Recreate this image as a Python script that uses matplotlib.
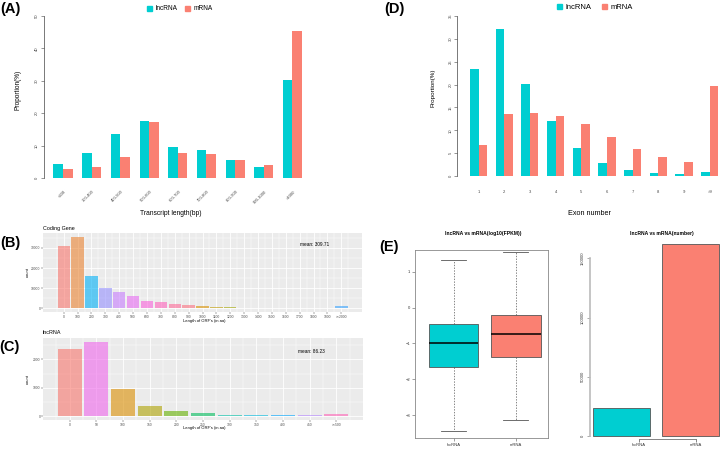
import numpy as np
import matplotlib.pyplot as plt
from matplotlib.patches import Patch

plt.rcParams['font.family'] = ['Liberation Sans', 'DejaVu Sans']

W, H = 720, 450
LNC = '#00CED1'
MRNA = '#FA8072'

# (A) transcript length distribution, proportion (%)
len_bins = ['<300', '300-400', '400-500', '500-600', '600-700', '700-800',
            '800-900', '900-1000', '>1000']
len_lnc = [4.3, 7.6, 13.6, 17.6, 9.6, 8.5, 5.6, 3.5, 30.2]
len_mrna = [2.8, 3.5, 6.6, 17.3, 7.7, 7.3, 5.6, 4.1, 45.5]

# (D) exon number distribution, proportion (%)
exon_bins = ['1', '2', '3', '4', '5', '6', '7', '8', '9', '>9']
exon_lnc = [23.3, 32.1, 20.1, 12.1, 6.1, 2.8, 1.3, 0.7, 0.4, 0.8]
exon_mrna = [6.7, 13.6, 13.7, 13.1, 11.3, 8.5, 5.8, 4.2, 3.1, 19.7]

# (B) ORF length, coding genes
cds_pos = list(range(0, 2001, 100))
cds_labels = [str(p) for p in range(0, 2000, 100)] + ['>=2000']
cds_counts = [31000, 35600, 16000, 10100, 7900, 6000, 3900, 3100, 2100, 1600,
              1100, 800, 600, 450, 350, 250, 200, 150, 120, 100, 1100]
cds_mean = 'mean: 309.71'

# (C) ORF length, lncRNA
lnc_pos = list(range(0, 501, 50))
lnc_labels = [str(p) for p in range(0, 500, 50)] + ['>=500']
lnc_counts = [2357, 2620, 952, 345, 180, 120, 60, 55, 45, 35, 95]
lnc_mean = 'mean: 86.23'

# (E) expression box stats (log10 FPKM) and transcript numbers
groups = ['lncRNA', 'mRNA']
box_whislo = [-3.45, -3.14]
box_q1 = [-1.65, -1.37]
box_med = [-1.0, -0.74]
box_q3 = [-0.46, -0.21]
box_whishi = [1.33, 1.55]
numbers = [23400, 161900]

# ggplot hue colours, in bar order
cds_colors = ['#F8766D', '#EA8331', '#00B0F6', '#9590FF', '#C77CFF', '#E76BF3',
              '#FA62DB', '#FF62BC', '#FF6A98', '#FC717F', '#D89000', '#C09B00',
              '#A3A500', '#7CAE00', '#39B600', '#00BB4E', '#00BF7D', '#00C1A3',
              '#00BFC4', '#00BAE0', '#35A2FF']
lnc_colors = ['#F8766D', '#EF67EB', '#DB8E00', '#AEA200', '#64B200', '#00BD5C',
              '#00C1A7', '#00BADE', '#00A6FF', '#B385FF', '#FF63B6']

fig = plt.figure(figsize=(W / 100, H / 100), dpi=100)


def px_axes(x0, y0, x1, y1):
    return fig.add_axes([x0 / W, 1 - y1 / H, (x1 - x0) / W, (y1 - y0) / H])


def ftext(x, y, s, **kw):
    fig.text(x / W, 1 - y / H, s, **kw)


def grouped_bars(ax, lnc, mrna, labels, ytop, step, lab_y, rot):
    n = len(labels)
    left = 1 + 3 * np.arange(n)
    ax.bar(left + 0.5, lnc, width=1, color=LNC)
    ax.bar(left + 1.5, mrna, width=1, color=MRNA)
    ax.set_ylim(0, ytop)
    for s in ['top', 'right', 'bottom']:
        ax.spines[s].set_visible(False)
    ax.spines['left'].set_bounds(0, ytop)
    ax.spines['left'].set_linewidth(0.5)
    ax.spines['left'].set_color('#444444')
    ax.set_yticks(np.arange(0, ytop + 0.1, step))
    ax.tick_params(axis='y', labelsize=3, length=2.5, width=0.4, pad=1,
                   labelrotation=90, colors='#444444')
    for t in ax.get_yticklabels():
        t.set_va('center')
    ax.set_xticks([])
    tr = ax.get_xaxis_transform()
    for i, lab in enumerate(labels):
        if rot:
            ax.text(left[i] + 1.25, lab_y, lab, transform=tr, rotation=45,
                    ha='right', va='center', rotation_mode='anchor',
                    fontsize=3, color='#444444')
        else:
            ax.text(left[i] + 1, lab_y, lab, transform=tr, ha='center',
                    va='center', fontsize=3, color='#444444')
    ax.patch.set_alpha(0)


# ---- (A)
axA = px_axes(43.5, 16, 312, 178)
axA.set_xlim(-0.04, 28.04)
grouped_bars(axA, len_lnc, len_mrna, len_bins, 50, 10, -0.08, True)
ftext(171, 214, 'Transcript length(bp)', ha='center', va='center', fontsize=4.8)
ftext(18, 90, 'Proportion(%)', ha='center', va='center', rotation=90, fontsize=4.7)
handles = [Patch(color=LNC), Patch(color=MRNA)]
fig.legend(handles, groups, loc='center', bbox_to_anchor=(180 / W, 1 - 9 / H),
           ncol=2, frameon=False, fontsize=4.7, handlelength=0.7,
           handleheight=0.7, handletextpad=0.6, columnspacing=1.2)

# ---- (D)
axD = px_axes(457.3, 16, 720, 176)
axD.set_xlim(-0.48, 30.2)
grouped_bars(axD, exon_lnc, exon_mrna, exon_bins, 35, 5, -0.098, False)
ftext(590, 213, 'Exon number', ha='center', va='center', fontsize=5.2)
ftext(433, 88, 'Proportion(%)', ha='center', va='center', rotation=90, fontsize=4.5)
fig.legend(handles, groups, loc='center', bbox_to_anchor=(595 / W, 1 - 7.5 / H),
           ncol=2, frameon=False, fontsize=5.5, handlelength=0.7,
           handleheight=0.7, handletextpad=0.5, columnspacing=1.3)


# ---- (B) and (C): ggplot-like histograms
def gg_bars(ax, pos, counts, labels, colors, width, ymajor, mean_txt, mean_xy):
    pos = np.asarray(pos)
    ax.set_facecolor('#EBEBEB')
    ax.bar(pos, counts, width=width, color=colors, alpha=0.6, zorder=3)
    lo, hi = pos[0] - width / 2, pos[-1] + width / 2
    pad = 0.05 * (hi - lo)
    ax.set_xlim(lo - pad, hi + pad)
    top = max(counts)
    ax.set_ylim(-0.05 * top, 1.05 * top)
    step = pos[1] - pos[0]
    ax.set_xticks(pos)
    ax.set_xticklabels(labels)
    ax.set_xticks(np.arange(pos[0] - step / 2, pos[-1] + step, step), minor=True)
    yt = np.arange(0, top + 1, ymajor)
    ax.set_yticks(yt)
    ax.set_yticks(np.arange(ymajor / 2, 1.05 * top, ymajor), minor=True)
    ax.grid(which='major', color='white', lw=0.6, zorder=0)
    ax.grid(which='minor', color='white', lw=0.3, zorder=0)
    ax.set_axisbelow(True)
    for s in ax.spines.values():
        s.set_visible(False)
    ax.tick_params(which='major', labelsize=2.4, length=1.2, width=0.3,
                   pad=0.6, colors='#333333', labelcolor='#4D4D4D')
    ax.tick_params(which='minor', length=0)
    ax.text(mean_xy[0], mean_xy[1], mean_txt, transform=ax.transAxes,
            ha='center', va='center', fontsize=3.4)


axB = px_axes(43, 233, 362, 312)
gg_bars(axB, cds_pos, cds_counts, cds_labels, cds_colors, 90, 10000,
        cds_mean, (0.853, 0.85))
ftext(43, 229, 'Coding Gene', ha='left', va='center', fontsize=3.9)
ftext(204, 321, "Length of ORF's (in aa)", ha='center', va='center', fontsize=3)
ftext(28, 272, 'count', ha='center', va='center', rotation=90, fontsize=3)

axC = px_axes(43, 338, 363, 420)
gg_bars(axC, lnc_pos, lnc_counts, lnc_labels, lnc_colors, 45, 1000,
        lnc_mean, (0.84, 0.835))
ftext(43, 333, 'lncRNA', ha='left', va='center', fontsize=3.9)
ftext(204, 428.5, "Length of ORF's (in aa)", ha='center', va='center', fontsize=3)
ftext(28, 379, 'count', ha='center', va='center', rotation=90, fontsize=3)

# ---- (E) left: boxplot
axE1 = px_axes(415, 250, 548, 438)
stats = []
for i, g in enumerate(groups):
    stats.append(dict(label=g, whislo=box_whislo[i], q1=box_q1[i], med=box_med[i],
                      q3=box_q3[i], whishi=box_whishi[i], fliers=[]))
bp = axE1.bxp(stats, positions=[1, 2], widths=0.8, capwidths=0.4,
              patch_artist=True, showfliers=False,
              boxprops=dict(edgecolor='#555555', lw=0.6),
              medianprops=dict(color='black', lw=1.1),
              whiskerprops=dict(color='#555555', lw=0.5, ls=(0, (2, 2))),
              capprops=dict(color='#555555', lw=0.6))
for patch, c in zip(bp['boxes'], [LNC, MRNA]):
    patch.set_facecolor(c)
axE1.set_xlim(0.38, 2.52)
axE1.set_ylim(-3.64, 1.61)
axE1.set_yticks([-3, -2, -1, 0, 1])
axE1.tick_params(labelsize=3, length=2, width=0.4, pad=1.5, colors='#555555',
                 labelcolor='#333333')
for s in axE1.spines.values():
    s.set_color('#888888')
    s.set_linewidth(0.6)
ftext(483, 233, 'lncRNA vs mRNA(log10(FPKM))', ha='center', va='center',
      fontsize=3.6, fontweight='bold')

# ---- (E) right: numbers
axE2 = px_axes(590, 237, 720, 439.3)
xb = 0.2 + 1.2 * np.arange(len(groups)) + 0.5
axE2.bar(xb, numbers, width=1, color=[LNC, MRNA], edgecolor='#555555', lw=0.6)
axE2.set_xlim(0.142, 2.42)
axE2.set_ylim(-2787, 168074)
for s in ['top', 'right']:
    axE2.spines[s].set_visible(False)
axE2.spines['left'].set_bounds(0, 150000)
axE2.spines['left'].set_color('#BBBBBB')
axE2.spines['left'].set_linewidth(1.2)
axE2.spines['bottom'].set_bounds(1, 2)
axE2.spines['bottom'].set_color('#555555')
axE2.spines['bottom'].set_linewidth(0.5)
axE2.set_yticks([0, 50000, 100000, 150000])
axE2.tick_params(axis='y', labelsize=3, length=2.5, width=0.5, pad=1,
                 labelrotation=90, colors='#888888', labelcolor='#333333')
for t in axE2.get_yticklabels():
    t.set_va('center')
axE2.set_xticks([1, 2])
axE2.set_xticklabels(groups)
axE2.tick_params(axis='x', labelsize=3, length=2, width=0.5, pad=1,
                 colors='#555555', labelcolor='#333333')
axE2.patch.set_alpha(0)
ftext(661.7, 233, 'lncRNA vs mRNA(number)', ha='center', va='center',
      fontsize=3.6, fontweight='bold')

# panel letters
for lab, x, y in [('(A)', 10, 9), ('(D)', 394, 9), ('(B)', 10, 243.5),
                  ('(C)', 9, 346.5), ('(E)', 389, 246.5)]:
    ftext(x, y, lab, ha='center', va='center', fontsize=10.5, fontweight='bold')

fig.savefig('out.png', dpi=100)
